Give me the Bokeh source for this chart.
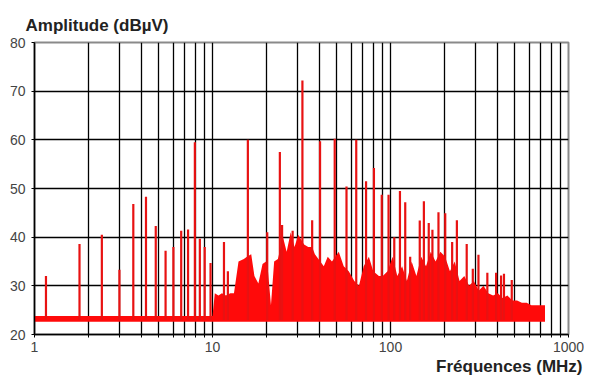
from bokeh.plotting import figure
from bokeh.models import Title, FixedTicker, BasicTickFormatter, AllLabels, Range1d
from bokeh.embed import file_html
from bokeh.resources import INLINE

# ---- data ----
floor_freq = [1.0, 10.0, 10.3, 10.8, 11.3, 11.9, 12.6, 13.2, 14.0, 15.0, 15.6, 16.5, 17.2, 18.1, 19.1, 20.0,
              20.5, 21.3, 22.2, 23.3, 24.9, 26.1, 27.5, 28.9, 30.3, 32.7, 34.5, 36.3, 37.6, 42.2, 44.4, 46.9,
              51.2, 54.6, 58.3, 62.6, 66.5, 70.7, 75.6, 80.0, 86.1, 90.4, 96.3, 102.8, 109.2, 116.2, 123.6, 131.5,
              139.8, 148.8, 158.3, 168.4, 179.1, 190.6, 202.7, 215.7, 229.5, 244.2, 259.8, 276.4, 294.1, 313, 333, 354,
              377, 401, 426, 454, 483, 514, 547, 582, 619, 659, 738]
floor_top = [23.8, 23.8, 28.5, 28, 28.5, 28, 28.5, 28.5, 35, 35.5, 36, 36.5, 32, 30.5, 34.5, 35,
             33, 26, 35, 35.5, 40, 37, 41, 38, 40.5, 38.5, 38, 38, 36.5, 34, 36, 35,
             37, 34, 33, 31, 30, 34, 36, 33, 32, 32, 33, 36, 32, 34, 31, 35,
             32, 36, 34, 37, 35, 37, 36, 33, 35, 31, 32, 30, 31, 29, 30, 28.5,
             28, 28.5, 27.5, 28, 27, 27, 26.5, 26.5, 26, 26, 26]
floor_bottom = 22.6

spike_freq = [1.16, 1.79, 2.39, 3.0, 3.59, 4.23, 4.80, 5.45, 6.03, 6.67, 7.29, 7.96, 8.49, 9.04, 9.75,
              11.6, 12.2, 15.8, 20.3, 23.9, 24.6, 28.2, 32.0, 36.3, 40.2, 48.6, 56.6, 64.2, 72.9, 80.7,
              89.3, 97.5, 105, 113, 121, 129, 146, 154, 164, 172, 186, 203, 222, 236, 268, 290, 312, 350,
              392, 418, 434, 480]
spike_peak = [32, 38.6, 40.5, 33.3, 46.8, 48.3, 42.3, 37.2, 38, 41.3, 41.6, 59.5, 39.7, 38, 34.7,
              39, 33, 60, 41, 57.5, 42.5, 41.3, 72.2, 43.5, 59.7, 60.2, 50.4, 60, 51.5, 54.2,
              48.7, 48.7, 40, 49.5, 47.2, 36, 43.4, 47.4, 42.9, 41.5, 45.1, 44.9, 39, 43.5, 38.6, 33.5, 36.4, 32.7,
              32.7, 32.1, 32.5, 31.2]
spike_base = 23.0

x_ticks = [1, 10, 100, 1000]
x_minor_ticks = [2, 3, 4, 5, 6, 7, 8, 9, 20, 30, 40, 50, 60, 70, 80, 90,
                 200, 300, 400, 500, 600, 700, 800, 900]
y_ticks = [20, 30, 40, 50, 60, 70, 80]
y_title = "Amplitude (dBµV)"
x_title = "Fréquences (MHz)"

FONT = "Liberation Sans"

p = figure(width=584, height=376, x_axis_type="log",
           x_range=Range1d(1, 1000), y_range=Range1d(20, 80),
           output_backend="svg", toolbar_location=None,
           min_border_left=34, min_border_right=16, min_border_top=42, min_border_bottom=42)
p.background_fill_color = "white"
p.border_fill_color = "white"
p.outline_line_color = "#8a8a8a"
p.outline_line_width = 2

xt = FixedTicker(ticks=x_ticks, minor_ticks=x_minor_ticks)
p.xaxis.ticker = xt
p.xaxis.formatter = BasicTickFormatter()
p.xgrid.ticker = xt
p.xgrid.grid_line_color = "black"
p.xgrid.grid_line_width = 1.3
p.xgrid.minor_grid_line_color = "black"
p.xgrid.minor_grid_line_width = 1.3
yt = FixedTicker(ticks=y_ticks)
p.yaxis.ticker = yt
p.ygrid.ticker = yt
p.ygrid.grid_line_color = "black"
p.ygrid.grid_line_width = 1.3

for ax in (p.xaxis[0], p.yaxis[0]):
    ax.axis_line_color = "black"
    ax.axis_line_width = 1.5
    ax.major_tick_in = 0
    ax.major_tick_out = 3
    ax.minor_tick_in = 0
    ax.minor_tick_out = 3
    ax.major_tick_line_color = "black"
    ax.minor_tick_line_color = "black"
    ax.major_label_text_font = FONT
    ax.major_label_text_font_size = "14px"
    ax.major_label_text_color = "#444444"
    ax.major_label_policy = AllLabels()
p.yaxis.major_label_standoff = 6
p.xaxis.major_label_standoff = 4
p.yaxis.minor_tick_line_color = None

# data
p.varea(x=floor_freq, y1=floor_bottom, y2=floor_top, fill_color="#ff0a0a")
p.segment(x0=spike_freq, y0=spike_base, x1=spike_freq, y1=spike_peak,
          line_color="#e81212", line_width=2.2)

top_title = Title(text=y_title, align="left", offset=-9, standoff=16, text_font=FONT,
                  text_font_style="bold", text_font_size="17px", text_color="#222222")
p.add_layout(top_title, "above")
bottom_title = Title(text=x_title, align="right", offset=-14, standoff=0, text_font=FONT,
                     text_font_style="bold", text_font_size="17px", text_color="#222222")
p.add_layout(bottom_title, "below")

open("out.html", "w").write(file_html(p, INLINE))
